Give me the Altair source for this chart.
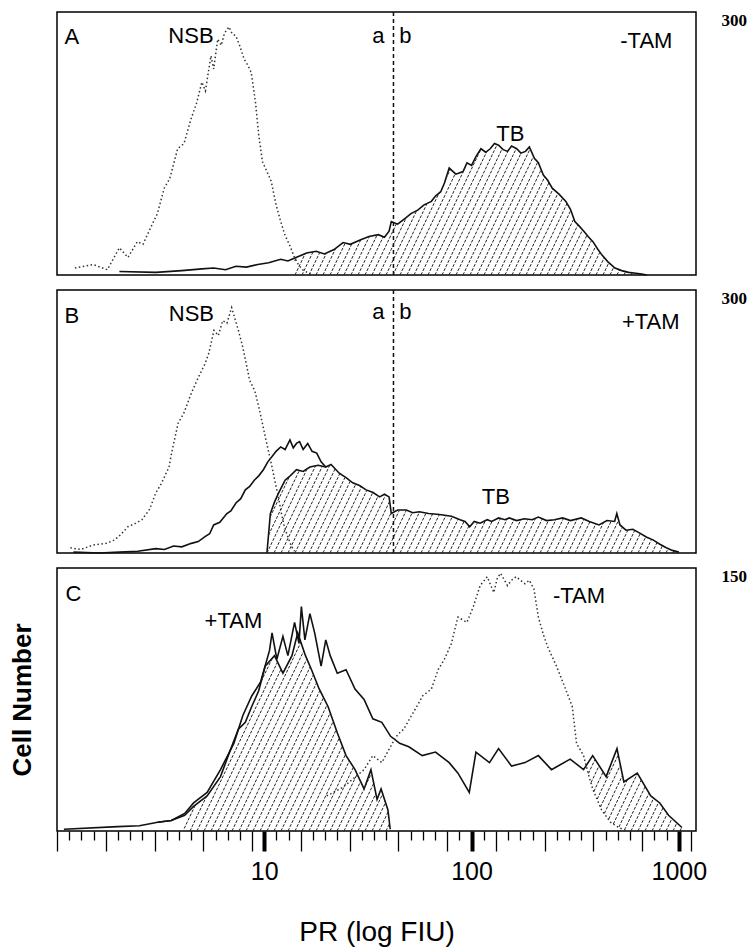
import numpy as np
import pandas as pd
import altair as alt

XMIN, XMAX = 1.0, 1210.0
W, H = 639, 263
FONT = "Liberation Sans"

# ---------------- Panel A (-TAM) ----------------
a_nsb_x = [1.22, 1.49, 1.75, 2.0, 2.2, 2.44, 2.6, 2.83, 3.05, 3.29, 3.5, 3.82, 4.1, 4.43, 4.7, 5.0, 5.2, 5.53,
           5.7, 5.96, 6.2, 6.43, 6.76, 7.0, 7.28, 7.6, 8.0, 8.3, 8.65, 9.07, 9.4, 9.8, 10.3, 10.8, 11.4, 12.0,
           12.6, 13.2, 14.0, 14.6, 15.3, 16.1, 17.0]
a_nsb_y = [8, 12, 6, 31, 20, 38, 35, 54, 70, 99, 110, 144, 150, 178, 195, 220, 210, 250,
           235, 269, 262, 276, 283, 275, 273, 262, 246, 240, 231, 197, 160, 129, 118, 107, 80, 61,
           45, 35, 20, 12, 6, 3, 0]
a_tb_x = [2.0, 3.0, 4.0, 5.0, 5.7, 6.5, 7.3, 8.2, 9.3, 10.5, 12.0, 13.0, 14.6, 16.0, 17.8, 19.5, 21.7, 24.0,
          26.0, 29.0, 32.0, 35.5, 38.0, 40.0, 41.0, 44.0, 48.0, 51.0, 55.0, 59.0, 64.0, 67.0, 71.0, 74.0,
          78.0, 84.0, 91.0, 95.0, 100.0, 105.0, 111.0, 117.0, 123.0, 129.0, 135.0, 142.0, 149.0, 156.0,
          165.0, 173.0, 182.0, 190.0, 201.0, 210.0, 222.0, 233.0, 245.0, 265.0, 285.0, 300.0, 315.0,
          330.0, 348.0, 365.0, 385.0, 405.0, 425.0, 455.0, 492.0, 530.0, 572.0, 620.0, 663.0, 700.0]
a_tb_y = [4, 3, 5, 7, 8, 6, 10, 9, 12, 14, 18, 16, 21, 25, 27, 24, 29, 37,
          35, 40, 44, 46, 43, 50, 61, 58, 65, 70, 74, 80, 84, 90, 95, 105,
          122, 115, 118, 128, 125, 135, 144, 140, 144, 150, 148, 143, 141, 147,
          144, 139, 141, 146, 133, 128, 114, 108, 99, 92, 84, 75, 61,
          56, 50, 44, 38, 30, 23, 15, 8, 5, 3, 2, 1, 0]

# ---------------- Panel B (+TAM) ----------------
b_nsb_x = [1.16, 1.3, 1.49, 1.73, 1.9, 2.05, 2.2, 2.4, 2.57, 2.8, 2.99, 3.2, 3.47, 3.6, 3.84, 4.1, 4.44, 4.8,
           5.18, 5.4, 5.72, 6.0, 6.3, 6.6, 6.96, 7.2, 7.5, 7.87, 8.2, 8.5, 9.0, 9.4, 9.75, 10.1, 10.5, 10.9,
           11.3, 11.7, 12.1, 12.5, 13.0, 13.5, 14.0]
b_nsb_y = [6, 4, 9, 11, 15, 22, 30, 34, 38, 50, 68, 80, 98, 118, 148, 160, 182, 200,
           216, 228, 254, 248, 265, 262, 280, 268, 254, 235, 215, 197, 185, 167, 150, 133, 115, 98,
           80, 64, 45, 30, 18, 8, 2]
b_tb_x = [1.2, 1.6, 2.0, 2.45, 3.0, 3.3, 3.65, 4.0, 4.45, 4.8, 5.2, 5.45, 5.7, 6.1, 6.6, 6.9, 7.3, 7.7, 8.1,
          8.5, 8.95, 9.4, 9.9, 10.4, 10.9, 11.4, 12.0, 12.6, 13.3, 13.8, 14.3, 14.8, 15.4, 16.2, 17.0, 17.9,
          18.8, 19.8, 21.0, 23.0, 24.8, 26.7, 28.8, 31.0, 33.5, 36.0, 38.0, 40.0, 41.0, 44.0, 48.5, 52.0,
          56.0, 62.0, 70.0, 80.0, 88.0, 93.0, 98.0, 103.0, 110.0, 119.0, 125.0, 135.0, 145.0, 152.0, 165.0,
          180.0, 196.0, 210.0, 230.0, 251.0, 275.0, 300.0, 338.0, 370.0, 412.0, 450.0, 490.0, 502.0, 520.0,
          556.0, 600.0, 645.0, 700.0, 750.0, 810.0, 870.0, 930.0, 1000.0]
b_tb_y = [1, 0, 1, 2, 5, 4, 8, 7, 11, 13, 19, 22, 32, 35, 45, 48, 57, 62, 72,
          76, 83, 88, 95, 104, 110, 116, 121, 118, 129, 120, 125, 127, 118, 125, 116, 114,
          104, 98, 101, 91, 86, 80, 77, 72, 69, 64, 67, 64, 45, 49, 49, 46,
          47, 45, 44, 42, 38, 36, 30, 36, 34, 38, 36, 40, 38, 40, 37,
          39, 38, 41, 37, 38, 40, 37, 40, 36, 32, 37, 36, 45, 32,
          26, 27, 23, 18, 15, 10, 6, 3, 1]
# inner (specific-binding) trace at the left edge of the hatched area
b_sb_x = [10.3, 10.7, 11.2, 11.7, 12.6, 13.2, 14.3, 15.4, 16.6, 18.2, 19.8]
b_sb_y = [0, 45, 58, 68, 83, 87, 95, 93, 98, 100, 98]

# ---------------- Panel C (overlay) ----------------
c_plus_x = [1.08, 1.96, 2.5, 3.06, 3.56, 4.13, 4.56, 5.3, 6.15, 7.13, 7.89, 8.7, 9.6, 10.6, 10.9, 11.5, 12.3,
            13.0, 14.0, 14.7, 15.1, 15.7, 16.6, 17.5, 18.8, 19.8, 20.8, 22.5, 24.8, 27.4, 30.3, 33.4, 36.9,
            40.7, 45.0, 49.8, 57.8, 67.0, 78.0, 86.0, 97.5, 105.0, 122.0, 135.0, 156.0, 181.0, 210.0, 243.0,
            299.0, 347.0, 384.0, 446.0, 503.0, 543.0, 630.0, 732.0, 809.0, 892.0, 1035.0]
c_plus_y = [1, 2.5, 3, 5, 6, 10, 16, 22, 35, 50, 66, 77, 85, 103, 113, 98, 111,
            100, 119, 107, 128, 109, 124, 113, 94, 109, 100, 90, 92, 81, 75, 64, 62,
            54, 50, 48, 43, 45, 39, 33, 22, 45, 39, 47, 37, 39, 43, 35,
            41, 35, 43, 31, 47, 28, 33, 20, 16, 9, 2]
c_inner_x = [3.06, 3.56, 4.13, 4.56, 5.3, 6.15, 6.8, 7.5, 8.1, 8.7, 9.4, 10.1, 11.2, 12.3, 13.6, 14.5, 15.8,
             16.9, 18.4, 20.3, 22.5, 24.8, 27.4, 30.3, 32.7, 35.0, 36.6, 39.5, 40.5]
c_inner_y = [5, 6, 9, 14, 20, 31, 45, 58, 62, 71, 80, 94, 100, 90, 100, 113, 100,
             92, 81, 71, 56, 43, 35, 24, 35, 18, 24, 12, 1]
c_minus_x = [20.0, 24.0, 27.0, 30.3, 33.4, 36.9, 41.5, 44.0, 47.0, 52.0, 55.0, 58.0, 64.0, 69.0, 74.0, 80.0,
             83.0, 86.0, 95.0, 102.0, 110.0, 119.0, 128.0, 133.0, 138.0, 149.0, 156.0, 164.0, 181.0, 190.0,
             200.0, 210.0, 222.0, 233.0, 257.0, 284.0, 306.0, 321.0, 347.0, 365.0, 384.0, 424.0, 468.0,
             513.0, 560.0]
c_minus_y = [20, 25, 30, 35, 43, 39, 50, 55, 58, 67, 72, 77, 81, 92, 98, 107,
             115, 122, 119, 128, 140, 145, 136, 144, 147, 140, 143, 145, 141, 143,
             138, 122, 112, 105, 94, 81, 71, 50, 43, 33, 24, 12, 5,
             2, 0]

# dividing line a|b and tick labels
ab_x = [42]
major_ticks = [10, 100, 1000]
TICKS_PER_DECADE = 17

# ---------------- text annotations ----------------
a_text = [("A", 1.18, 271), ("NSB", 4.43, 273), ("a", 35.5, 273), ("b", 48, 273), ("-TAM", 697, 267),
          ("TB", 154, 161)]
b_text = [("B", 1.18, 270), ("NSB", 4.45, 273), ("a", 35.5, 275), ("b", 48, 275), ("+TAM", 732, 263),
          ("TB", 131, 64)]
c_text = [("C", 1.2, 135), ("+TAM", 7.1, 120), ("-TAM", 330, 134)]


def hatch_rows(ux, uy, lx_, ly_, x_lo, x_hi, ymax, spacing=7.0, slope=2.1):
    ppd = W / np.log10(XMAX / XMIN)
    ppc = H / ymax
    lux, luy = np.log10(ux), np.asarray(uy, float)
    if lx_ is None:
        llx, lly = np.array([0.0, 4.0]), np.array([0.0, 0.0])
    else:
        llx, lly = np.log10(lx_), np.asarray(ly_, float)
    X_lo, X_hi = np.log10(x_lo) * ppd, np.log10(x_hi) * ppd
    Yp = np.arange(0, H + 0.5, 0.5)
    rows = []
    X0 = np.floor((X_lo - H / slope) / spacing) * spacing
    while X0 <= X_hi:
        Xp = X0 + Yp / slope
        lg = Xp / ppd
        up = np.interp(lg, lux, luy, left=0, right=0) * ppc
        lo = np.interp(lg, llx, lly, left=0, right=0) * ppc
        inside = (Xp >= X_lo) & (Xp <= X_hi) & (Yp >= lo) & (Yp <= up)
        idx = np.flatnonzero(inside)
        if idx.size:
            splits = np.where(np.diff(idx) > 1)[0] + 1
            for run in np.split(idx, splits):
                if run.size >= 3:
                    s, e = run[0], run[-1]
                    rows.append(dict(x=10 ** (Xp[s] / ppd), y=Yp[s] / ppc,
                                     x2=10 ** (Xp[e] / ppd), y2=Yp[e] / ppc))
        X0 += spacing
    return pd.DataFrame(rows)


def series_df(items):
    frames = []
    for name, xs, ys in items:
        frames.append(pd.DataFrame({"x": xs, "y": ys, "s": name, "i": range(len(xs))}))
    return pd.concat(frames, ignore_index=True)


def text_df(items):
    return pd.DataFrame(items, columns=["t", "x", "y"])


tick_values = []
for k in range(0, 53):
    if k % TICKS_PER_DECADE == 0:
        tick_values.append(int(round(10 ** (k // TICKS_PER_DECADE))))
    else:
        tick_values.append(float(10 ** (k / TICKS_PER_DECADE)))

LONG_TEST = "round(log(datum.value)/LN10*%d) %% 4 == 0" % TICKS_PER_DECADE
MAJOR_TEST = " || ".join("datum.value == %d" % v for v in major_ticks)


def panel(solid, dotted, hatch, texts, ymax, bottom=False, ab=True):
    xs = alt.Scale(type="log", domain=[XMIN, XMAX], nice=False)
    ys = alt.Scale(domain=[0, ymax], nice=False)
    if bottom:
        x_axis = alt.Axis(values=tick_values, orient="bottom", title="PR (log FIU)", grid=False, domain=False,
                          tickColor="black",
                          tickSize={"condition": {"test": LONG_TEST + " || " + MAJOR_TEST, "value": 20}, "value": 9},
                          tickWidth={"condition": {"test": MAJOR_TEST, "value": 4}, "value": 1.3},
                          labelExpr="(" + MAJOR_TEST + ") ? format(datum.value, 'd') : ''",
                          labelOverlap=False, labelFlush=False, labelFont=FONT, labelFontSize=25,
                          labelColor="black", labelPadding=8,
                          titleFont=FONT, titleFontSize=28, titleFontWeight="normal", titleColor="black",
                          titlePadding=34)
    else:
        x_axis = None
    y_right = alt.Axis(orient="right", values=[ymax], title=None, ticks=False, domain=False, grid=False,
                       labelFont="Liberation Serif", labelFontWeight="bold", labelFontSize=17,
                       labelPadding=25, labelAlign="left", labelBaseline="top", labelColor="black")

    X = lambda: alt.X("x:Q", scale=xs, axis=x_axis)
    Y = lambda: alt.Y("y:Q", scale=ys, axis=y_right)

    layers = []
    layers.append(alt.Chart(solid).mark_line(color="#111", strokeWidth=1.6).encode(
        x=X(), y=Y(), detail="s:N", order="i:Q"))
    layers.append(alt.Chart(dotted).mark_line(color="#333", strokeWidth=1.5, strokeDash=[1.5, 2.5]).encode(
        x=X(), y=Y(), detail="s:N", order="i:Q"))
    layers.append(alt.Chart(hatch).mark_rule(color="#222", strokeWidth=1.0, strokeDash=[3, 1.5]).encode(
        x=X(), x2="x2:Q", y=Y(), y2="y2:Q"))
    if ab:
        layers.append(alt.Chart(pd.DataFrame({"x": ab_x})).mark_rule(
            color="#111", strokeWidth=1.5, strokeDash=[4, 3]).encode(x=X()))
    layers.append(alt.Chart(texts).mark_text(font=FONT, fontSize=22, color="black").encode(
        x=X(), y=Y(), text="t:N"))
    inner = alt.layer(*layers)
    if bottom:
        left_title = alt.Chart(texts).mark_point(opacity=0).encode(
            x=X(),
            y=alt.Y("y:Q", scale=ys, axis=alt.Axis(orient="left", title="Cell Number", labels=False,
                                                    ticks=False, domain=False, grid=False,
                                                    titleFont=FONT, titleFontSize=26, titleFontWeight="bold",
                                                    titleColor="black", titlePadding=22)))
        return alt.layer(left_title, inner).resolve_axis(y="independent").properties(width=W, height=H)
    return inner.properties(width=W, height=H)


# hatch areas
hA = hatch_rows(a_tb_x, a_tb_y, None, None, 14.0, 1000.0, 300)
b_up_x = b_sb_x + [x for x in b_tb_x if x > 19.8]
b_up_y = b_sb_y + [y for x, y in zip(b_tb_x, b_tb_y) if x > 19.8]
hB = hatch_rows(b_up_x, b_up_y, None, None, 10.3, 1000.0, 300)
hC = pd.concat([hatch_rows(c_inner_x, c_inner_y, None, None, 4.1, 40.5, 150),
                hatch_rows(c_plus_x, c_plus_y, c_minus_x, c_minus_y, 355.0, 1040.0, 150)], ignore_index=True)

pA = panel(series_df([("TB", a_tb_x, a_tb_y)]), series_df([("NSB", a_nsb_x, a_nsb_y)]), hA,
           text_df(a_text), 300)
pB = panel(series_df([("TB", b_tb_x, b_tb_y), ("SB", b_sb_x, b_sb_y)]),
           series_df([("NSB", b_nsb_x, b_nsb_y)]), hB, text_df(b_text), 300)
pC = panel(series_df([("plus", c_plus_x, c_plus_y), ("inner", c_inner_x, c_inner_y)]),
           series_df([("minus", c_minus_x, c_minus_y)]), hC, text_df(c_text), 150, bottom=True, ab=False)

chart = alt.vconcat(pA, pB, pC, spacing=9).properties(
    padding={"left": 8, "top": 10, "right": 5, "bottom": 5}, background="white"
).configure_view(stroke="black", strokeWidth=1.5)

chart.save("out.html", embed_options={"renderer": "svg", "actions": False})
